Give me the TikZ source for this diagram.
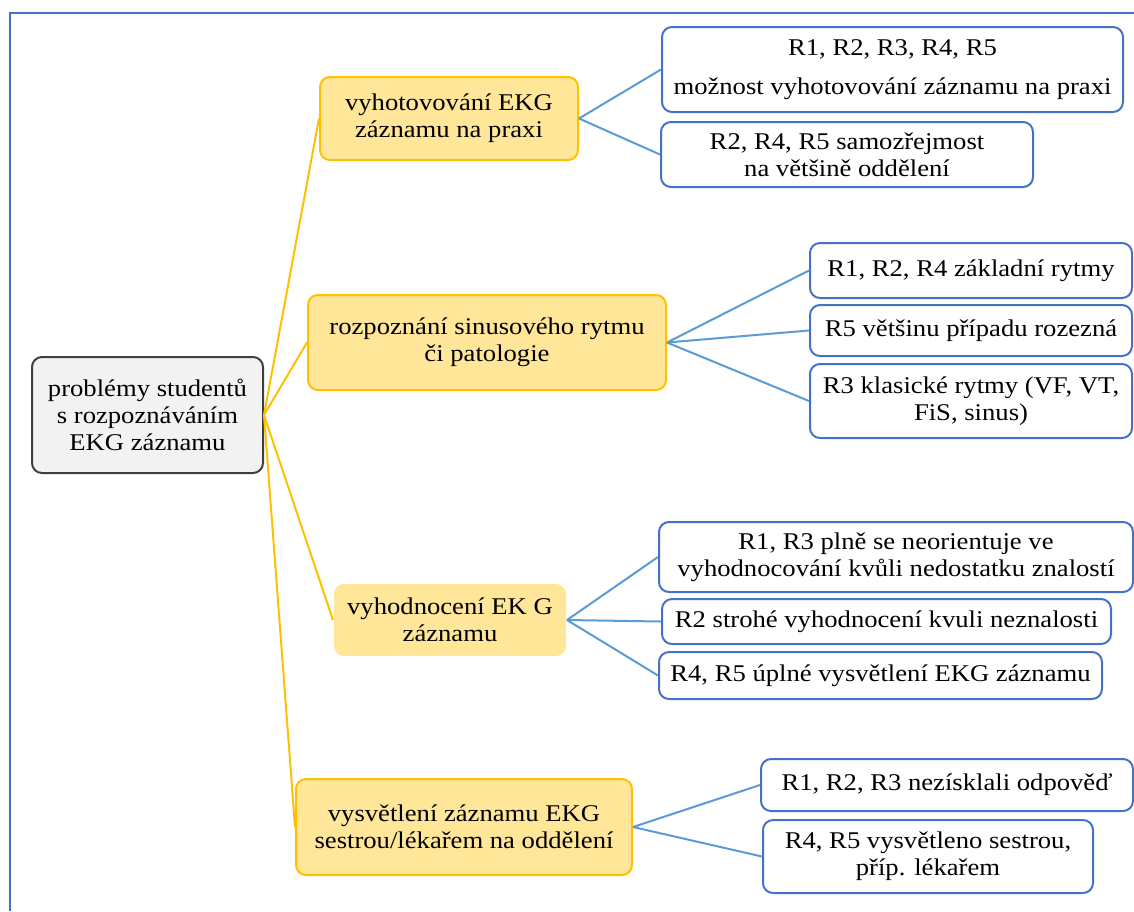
\documentclass[tikz,border=0pt]{standalone}
\usepackage{fontspec}
\setmainfont[FakeStretch=1.11]{Liberation Serif}
\definecolor{gold}{HTML}{FFC000}
\definecolor{goldfill}{HTML}{FFE699}
\definecolor{linkblue}{HTML}{5B9BD5}
\definecolor{boxblue}{HTML}{4472C4}
\definecolor{rootfill}{HTML}{F2F2F2}
\definecolor{rootline}{HTML}{3F3F3F}
\begin{document}
\begin{tikzpicture}
		[x=0.5pt,y=-0.5pt,
		every node/.style={align=center,inner sep=0pt,rounded corners=5pt,
			font=\fontsize{12pt}{13.5pt}\selectfont},
		root/.style={draw=rootline,fill=rootfill,line width=1pt},
		topic/.style={draw=gold,fill=goldfill,line width=1pt},
		answer/.style={draw=boxblue,fill=white,line width=1pt},
		branch/.style={gold,line width=1pt},
		twig/.style={linkblue,line width=1pt}
		]
		\useasboundingbox (0,0) rectangle (1134,911);
		\draw[boxblue,line width=0.7pt] (10,911) -- (10,13) -- (1134,13);
		% main node
		\node[root,minimum width=115.5pt,minimum height=58pt] (root) at (147.5,415)
			{problémy studentů\\ s rozpoznáváním\\ EKG záznamu};
		% topics
		\node[topic,minimum width=129pt,minimum height=41.5pt] (A) at (449,118.5)
			{vyhotovování EKG\\ záznamu na praxi};
		\node[topic,minimum width=179pt,minimum height=47.5pt] (B) at (487,342.5)
			{rozpoznání sinusového rytmu\\ či patologie};
		\node[topic,draw=none,minimum width=116pt,minimum height=36pt] (C) at (450,620)
			{vyhodnocení EK G\\ záznamu};
		\node[topic,minimum width=168pt,minimum height=48pt] (D) at (464,827)
			{vysvětlení záznamu EKG\\ sestrou/lékařem na oddělení};
		% answers
		\node[answer,minimum width=230.5pt,minimum height=42.5pt] (A1) at (892.5,69.5)
			{R1, R2, R3, R4, R5\\[6pt] možnost vyhotovování záznamu na praxi};
		\node[answer,minimum width=186pt,minimum height=32.5pt] (A2) at (847,154.5)
			{R2, R4, R5 samozřejmost\\ na většině oddělení};
		\node[answer,minimum width=161pt,minimum height=27.5pt] (B1) at (971,270.5)
			{R1, R2, R4 základní rytmy};
		\node[answer,minimum width=161pt,minimum height=25.5pt] (B2) at (971,330.5)
			{R5 většinu případu rozezná};
		\node[answer,minimum width=161pt,minimum height=37pt] (B3) at (971,401)
			{R3 klasické rytmy (VF, VT,\\ FiS, sinus)};
		\node[answer,minimum width=237pt,minimum height=35pt] (C1) at (896,557)
			{R1, R3 plně se neorientuje ve\\ vyhodnocování kvůli nedostatku znalostí};
		\node[answer,minimum width=224.5pt,minimum height=22.5pt] (C2) at (886.5,621.5)
			{R2 strohé vyhodnocení kvuli neznalosti};
		\node[answer,minimum width=221.5pt,minimum height=23.5pt] (C3) at (880.5,675.5)
			{R4, R5 úplné vysvětlení EKG záznamu};
		\node[answer,minimum width=186pt,minimum height=26pt] (D1) at (947,785)
			{R1, R2, R3 nezísklali odpověď};
		\node[answer,minimum width=165pt,minimum height=36.5pt] (D2) at (928,856.5)
			{R4, R5 vysvětleno sestrou,\\ příp. lékařem};
		% connectors
		\foreach \t in {A,B,C,D}
			\draw[branch] (root.east) -- (\t.west);
		\foreach \t/\a in {A/A1,A/A2,B/B1,B/B2,B/B3,C/C1,C/C2,C/C3,D/D1,D/D2}
			\draw[twig] (\t.east) -- (\a.west);
	\end{tikzpicture}
\end{document}
